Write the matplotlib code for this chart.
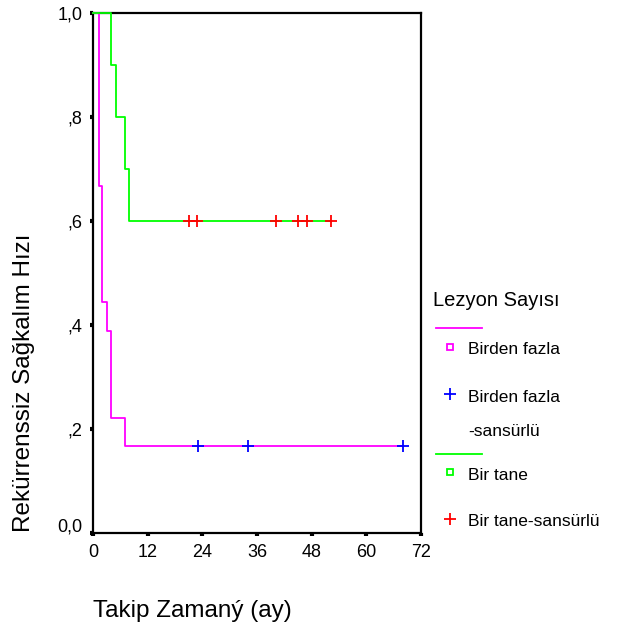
import matplotlib.pyplot as plt
from matplotlib.lines import Line2D
import matplotlib.transforms as mtransforms

plt.rcParams["font.family"] = ["Liberation Sans", "DejaVu Sans"]

# Kaplan-Meier steps
birden_t = [0, 1.3, 2.0, 3.1, 4.0, 7.0, 68.0]
birden_s = [1.0, 0.667, 0.444, 0.389, 0.222, 0.167, 0.167]
birden_cens_t = [23.0, 34.0, 68.0]
birden_cens_s = [0.167, 0.167, 0.167]

bir_t = [0, 4.0, 5.0, 7.0, 8.0, 52.2]
bir_s = [1.0, 0.9, 0.8, 0.7, 0.6, 0.6]
bir_cens_t = [21.1, 22.8, 40.1, 45.1, 46.9, 52.2]
bir_cens_s = [0.6, 0.6, 0.6, 0.6, 0.6, 0.6]

xticks = [0, 12, 24, 36, 48, 60, 72]
yticks = [0.0, 0.2, 0.4, 0.6, 0.8, 1.0]
ytick_labels = ["0,0", ",2", ",4", ",6", ",8", "1,0"]

fig = plt.figure(figsize=(6.17, 6.29), dpi=100)
ax = fig.add_axes([93 / 617, 1 - 533 / 629, 328 / 617, 520 / 629])

ax.step(birden_t, birden_s, where="post", color="#ff00ff", lw=1.3, zorder=3, clip_on=False)
ax.step(bir_t, bir_s, where="post", color="#00ff00", lw=1.3, zorder=3, clip_on=False)
ax.plot(birden_cens_t, birden_cens_s, "+", color="#0000ff", ms=9, mew=1.3, zorder=4, clip_on=False)
ax.plot(bir_cens_t, bir_cens_s, "+", color="#ff0000", ms=9, mew=1.3, zorder=4, clip_on=False)

ax.set_xlim(0, 72)
ax.set_ylim(0, 1)
ax.set_xticks(xticks)
ax.set_yticks(yticks)
ax.set_yticklabels(ytick_labels)
ax.tick_params(length=2.5, width=3, labelsize=13)
ax.tick_params(axis="x", pad=5.5)
ax.tick_params(axis="y", pad=5)
# SPSS lifts the bottom label a little
lab0 = ax.get_yticklabels()[0]
lab0.set_transform(lab0.get_transform() + mtransforms.ScaledTranslation(0, 8 / 100, fig.dpi_scale_trans))
for sp in ax.spines.values():
    sp.set_linewidth(1.6)

fig.text(24 / 617, 1 - 532 / 629, "Rekürrenssiz Sağkalım Hızı", rotation=90,
         ha="center", va="bottom", fontsize=17.5)
fig.text(93 / 617, 1 - 611 / 629, "Takip Zamaný (ay)", ha="left", va="center", fontsize=17.5)

# legend drawn by hand, SPSS style
def fx(px):
    return px / 617

def fy(py):
    return 1 - py / 629

fig.text(fx(433), fy(301), "Lezyon Sayısı", ha="left", va="center", fontsize=14.5)
entries = [
    ("line", "#ff00ff", 328, None),
    ("s", "#ff00ff", 349, "Birden fazla"),
    ("+", "#0000ff", 396, "Birden fazla"),
    ("text", None, 430, "-sansürlü"),
    ("line", "#00ff00", 454, None),
    ("s", "#00ff00", 474, "Bir tane"),
    ("+", "#ff0000", 521, "Bir tane-sansürlü"),
]
for kind, col, py, label in entries:
    if kind == "line":
        fig.add_artist(Line2D([fx(436), fx(482)], [fy(py), fy(py)], color=col, lw=1.3))
    elif kind == "s":
        fig.add_artist(Line2D([fx(450)], [fy(py - 2)], marker="s", ms=5, mfc="white",
                              mec=col, mew=1.3, ls="none"))
    elif kind == "+":
        fig.add_artist(Line2D([fx(450)], [fy(py - 2)], marker="+", ms=9, color=col,
                              mew=1.3, ls="none"))
    if label:
        fig.text(fx(468), fy(py + 1), label, ha="left", va="center", fontsize=12.5)

fig.savefig("out.png", dpi=100)
